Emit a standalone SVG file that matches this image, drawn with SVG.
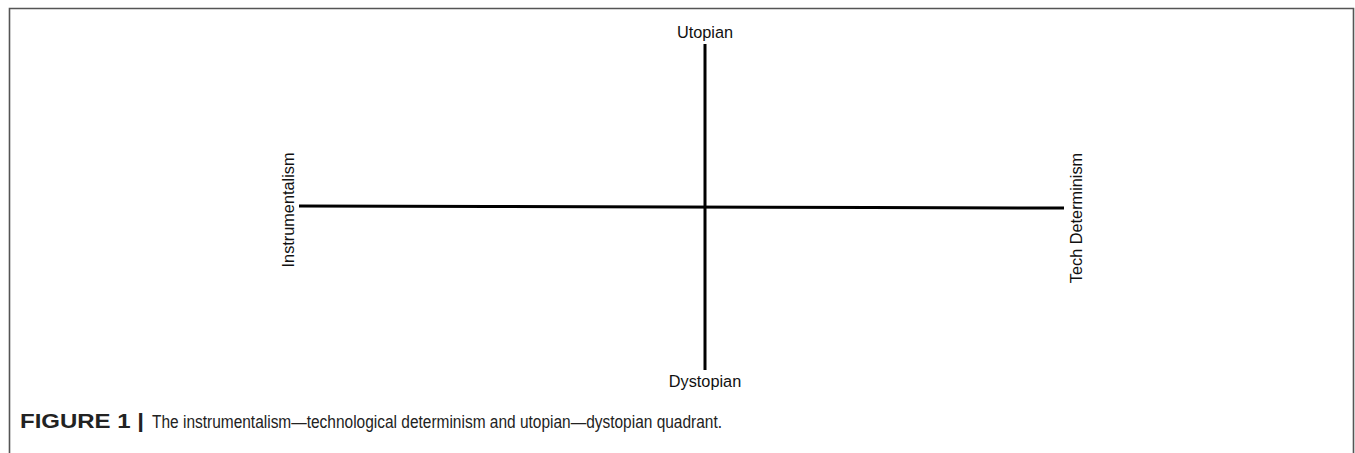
<svg xmlns="http://www.w3.org/2000/svg" width="1355" height="453" viewBox="0 0 1355 453">
<style>
.lbl{font-family:"Liberation Sans",Arial,sans-serif;font-size:16.3px;fill:#111}
.cap{font-family:"Liberation Sans",Arial,sans-serif;font-size:17.5px;fill:#222}
.capb{font-family:"Liberation Sans",Arial,sans-serif;font-size:19.5px;font-weight:bold;fill:#222}
.axis{stroke:#000;stroke-width:3;fill:none}
</style>
<rect width="1355" height="453" fill="#fff"/>
<path d="M9.5,460 V8.5 H1353.5 V460" fill="none" stroke="#555" stroke-width="1.6"/>
<g id="connectors">
<line class="axis" x1="705" y1="44" x2="705" y2="370"/>
<path class="axis" d="M299,206 L490,206.5 L870,207.5 L1064,208"/>
</g>
<g id="utopian"><text class="lbl" x="705" y="38" text-anchor="middle">Utopian</text></g>
<g id="dystopian"><text class="lbl" x="705" y="387" text-anchor="middle">Dystopian</text></g>
<g id="instrumentalism"><text class="lbl" transform="translate(294,210) rotate(-90)" text-anchor="middle">Instrumentalism</text></g>
<g id="tech-determinism"><text class="lbl" transform="translate(1082,218) rotate(-90)" text-anchor="middle">Tech Determinism</text></g>
<g id="caption">
<text class="capb" x="20" y="428" textLength="124" lengthAdjust="spacingAndGlyphs">FIGURE 1 |</text>
<text class="cap" x="152" y="428" textLength="570" lengthAdjust="spacingAndGlyphs">The instrumentalism—technological determinism and utopian—dystopian quadrant.</text>
</g>
</svg>
